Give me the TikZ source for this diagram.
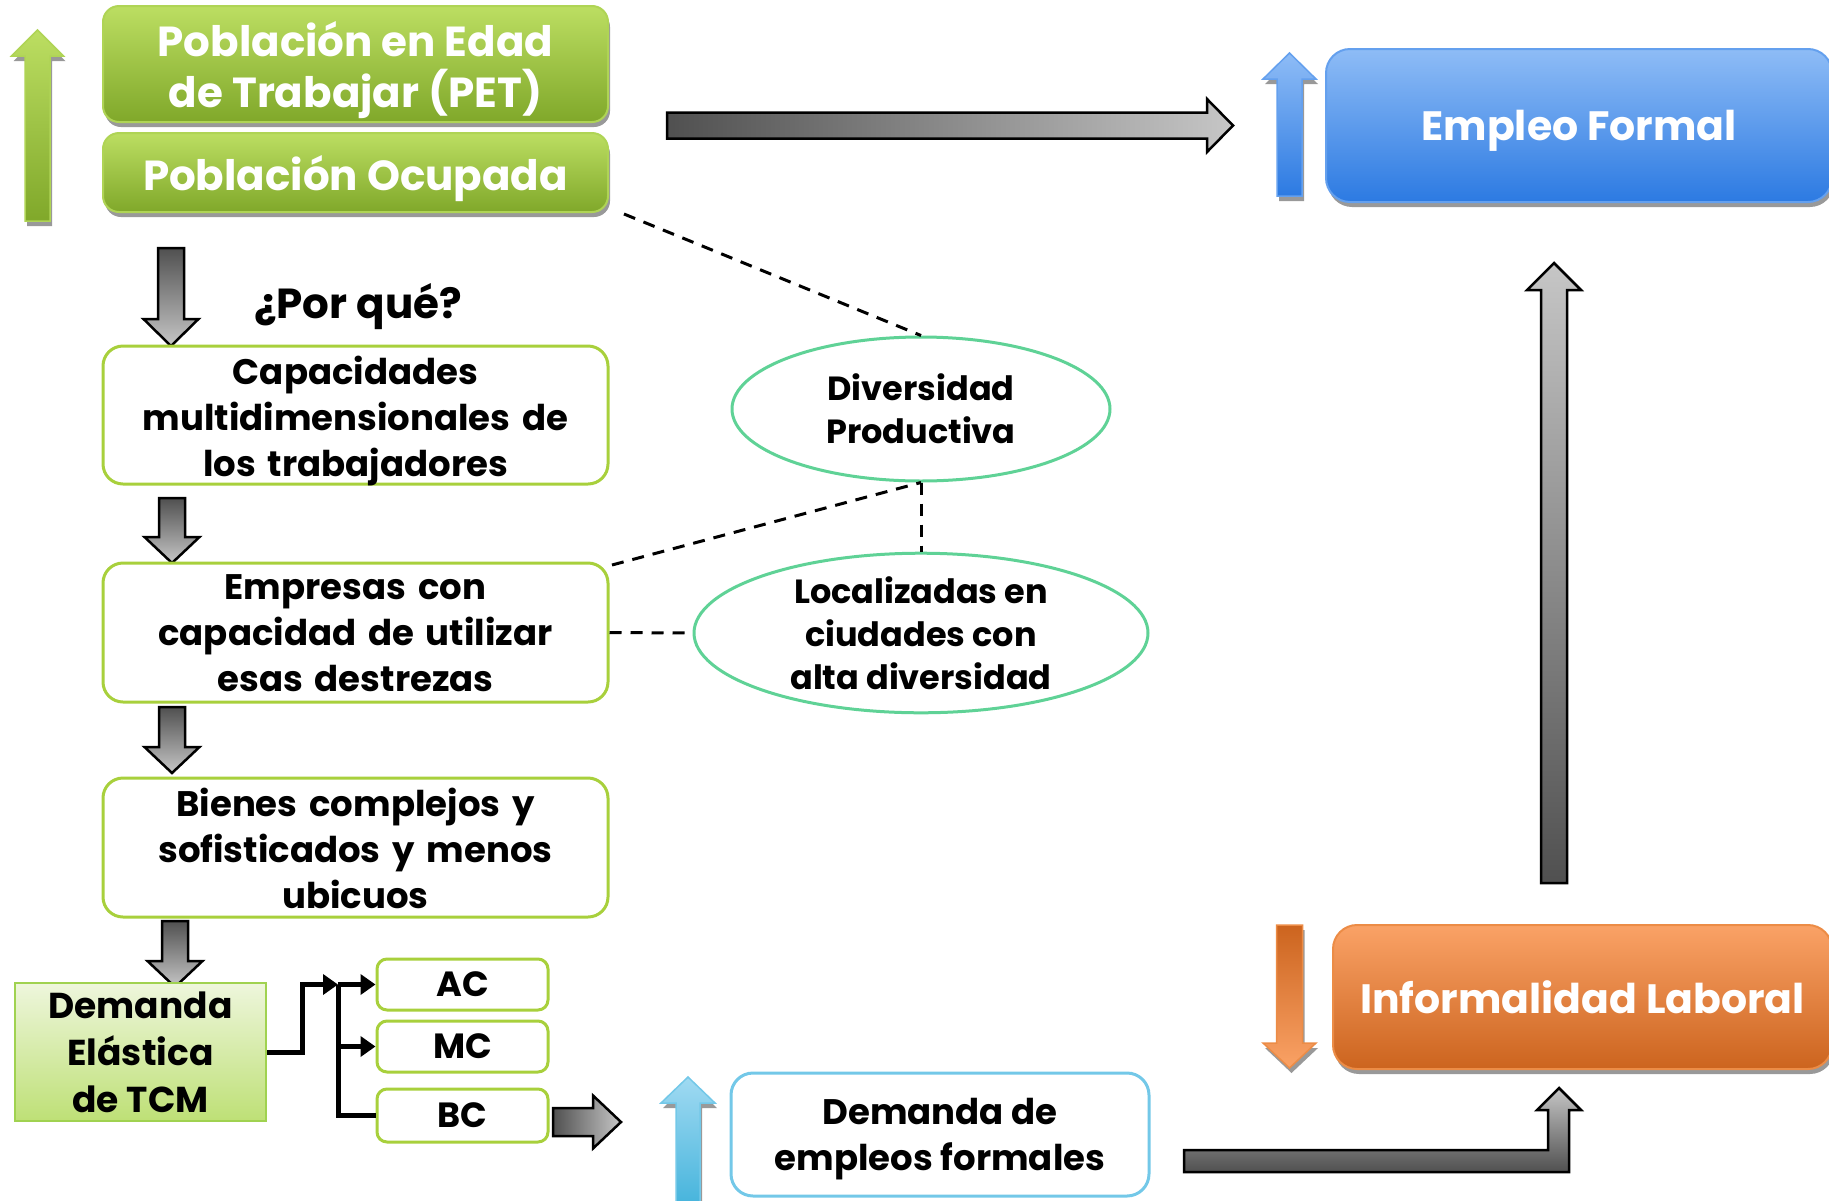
\documentclass[tikz,border=0pt]{standalone}
\usepackage{fontspec}
\setmainfont{Poppins}
\usetikzlibrary{shadows,arrows.meta,shapes.geometric}
\definecolor{lgreen}{RGB}{168,208,60}
\definecolor{gtop}{RGB}{188,222,98}
\definecolor{gbot}{RGB}{128,168,42}
\definecolor{gbord}{RGB}{175,212,85}
\definecolor{btop}{RGB}{142,188,246}
\definecolor{bbot}{RGB}{44,122,226}
\definecolor{bbord}{RGB}{100,160,238}
\definecolor{otop}{RGB}{250,162,102}
\definecolor{obot}{RGB}{204,100,30}
\definecolor{obord}{RGB}{236,140,70}
\definecolor{ellc}{RGB}{95,210,150}
\definecolor{skyb}{RGB}{115,200,232}
\definecolor{dtop}{RGB}{238,246,220}
\definecolor{dbot}{RGB}{190,224,118}
\definecolor{darkg}{RGB}{80,80,80}
\definecolor{lightg}{RGB}{198,198,198}
\newcommand\fwhite{\fontsize{42}{51}\selectfont\bfseries}
\newcommand\fbig{\fontsize{41}{50}\selectfont\bfseries}
\newcommand\fblack{\fontsize{35.5}{46}\selectfont\bfseries}
\newcommand\fell{\fontsize{33.5}{43}\selectfont\bfseries}
\newcommand\varrow[7]{\path[#7] (#1-#6,#3) -- (#1,#2) -- (#1+#6,#3) -- (#1+#5,#3) -- (#1+#5,#4) -- (#1-#5,#4) -- (#1-#5,#3) -- cycle;}
\newcommand\harrow[7]{\path[#7] (#3,#1-#6) -- (#2,#1) -- (#3,#1+#6) -- (#3,#1+#5) -- (#4,#1+#5) -- (#4,#1-#5) -- (#3,#1-#5) -- cycle;}
\begin{document}
\begin{tikzpicture}[x=1pt,y=-1pt,
  every node/.append style={text depth=0pt},
  shadowed/.style={drop shadow={shadow xshift=2pt,shadow yshift=-5pt,opacity=0.4,fill=black}},
  greenbox/.style={draw=gbord,line width=2pt,rounded corners=16pt,top color=gtop,bottom color=gbot,
     text=white,font=\fwhite,minimum width=505pt,inner sep=0pt,align=center,shadowed},
  wbox/.style={draw=lgreen,line width=3pt,rounded corners=20pt,fill=white,font=\fblack,text depth=90pt,
     text width=500pt,align=center,minimum width=505pt,minimum height=138pt,inner sep=0pt},
  smallbox/.style={draw=lgreen,line width=3pt,rounded corners=10pt,fill=white,font=\fontsize{35}{42}\selectfont\bfseries,
     minimum width=171pt,minimum height=51pt,inner sep=0pt},
  ellnode/.style={ellipse,draw=ellc,line width=3pt,fill=white,font=\fell,align=center,inner sep=0pt,minimum height=144pt},
  graydown/.style={draw=black,line width=2.5pt,top color=darkg,bottom color=lightg},
  grayup/.style={draw=black,line width=2.5pt,top color=lightg,bottom color=darkg},
  grayright/.style={draw=black,line width=2.5pt,left color=darkg,right color=lightg},
  dashline/.style={black,line width=3pt,dash pattern=on 12pt off 9pt},
  conn/.style={black,line width=5pt},
  tip/.style={-{Triangle[length=15pt,width=20pt]}}
]
\useasboundingbox (0,0) rectangle (1829,1200);
% left column green boxes
\node[greenbox,minimum height=116pt] (pet) at (355.5,64) {Población en Edad\\de Trabajar (PET)};
\node[greenbox,minimum height=79pt] (ocu) at (355.5,172.5) {Población Ocupada};
% colored arrows
\varrow{37.5}{30}{56}{221}{12.5}{26}{draw=gbord,line width=1.5pt,top color=gtop,bottom color=gbot,shadowed}
\varrow{1289.5}{53}{79}{196}{12.5}{26.5}{draw=bbord,line width=1.5pt,top color=btop,bottom color=bbot,shadowed}
\varrow{1289.5}{1068}{1043}{925}{13}{26.5}{draw=obord,line width=1.5pt,top color=obot,bottom color=otop,shadowed}
\varrow{688}{1077}{1103}{1205}{12}{27}{draw=skyb,line width=1.5pt,top color={rgb,255:red,160;green,218;blue,242},bottom color={rgb,255:red,70;green,180;blue,220},shadowed}
% right boxes
\node[draw=bbord,line width=2pt,rounded corners=24pt,top color=btop,bottom color=bbot,text=white,font=\fbig,
  minimum width=506pt,minimum height=153pt,inner sep=0pt,shadowed] (ef) at (1579,125.5) {Empleo Formal};
\node[draw=obord,line width=2pt,rounded corners=24pt,top color=otop,bottom color=obot,text=white,font=\fbig,
  minimum width=499pt,minimum height=144pt,inner sep=0pt,shadowed] (il) at (1582.5,997) {Informalidad Laboral};
% gray block arrows
\harrow{125.5}{1233}{1207}{667}{13}{26.5}{grayright}
\varrow{1554}{263}{290}{883}{13}{27}{grayup}
\path[grayup] (1184,1150) -- (1548,1150) -- (1548,1110) -- (1537,1110) -- (1559,1088) -- (1581,1110) -- (1569,1110) -- (1569,1172) -- (1184,1172) -- cycle;
\varrow{171}{346}{319}{248}{13}{27.5}{graydown}
\varrow{172}{563}{537}{498}{13}{27.5}{graydown}
\varrow{172}{773}{747}{707}{13}{27.5}{graydown}
\varrow{175}{987}{961}{921}{13}{27.5}{graydown}
\harrow{1122}{621}{593}{553}{14}{26.5}{grayright}
% question
\node[font=\fontsize{42}{48}\selectfont\bfseries] (q) at (358,301) {¿Por qué?};
% white boxes
\node[wbox] (cap) at (355.5,415) {Capacidades\\multidimensionales de\\los trabajadores};
\node[wbox,minimum height=139pt] (emp) at (355.5,632.5) {Empresas con\\capacidad de utilizar\\esas destrezas};
\node[wbox,minimum height=139pt] (bie) at (355.5,847.5) {Bienes complejos y\\sofisticados y menos\\ubicuos};
\node[draw={rgb,255:red,160;green,210;blue,80},line width=2pt,top color=dtop,bottom color=dbot,
  font=\fontsize{36}{47}\selectfont\bfseries,align=center,minimum width=251pt,minimum height=138pt,inner sep=0pt] (dem) at (140.5,1052) {Demanda\\Elástica\\de TCM};
\node[smallbox] (ac) at (462.5,984.5) {AC};
\node[smallbox] (mc) at (462.5,1046.5) {MC};
\node[smallbox,minimum height=53pt] (bc) at (462.5,1115.5) {BC};
\node[draw=skyb,line width=3pt,rounded corners=22pt,fill=white,font=\fblack,align=center,
  minimum width=418pt,minimum height=123pt,inner sep=0pt] (dep) at (940,1134.5) {Demanda de\\empleos formales};
% ellipses
\node[ellnode,minimum width=378pt] (div) at (921,409) {Diversidad\\Productiva};
\node[ellnode,minimum width=454pt] (loc) at (921,633) {Localizadas en\\ciudades con\\alta diversidad};
% dashed links
\coordinate (d1) at (624,214);
\coordinate (d2) at (612,565);
\draw[dashline] (d1) -- (div.north);
\draw[dashline] (d2) -- (div.south);
\draw[dashline] (div.south) -- (loc.north);
\draw[dashline] (emp.east) -- (loc.west);
% tree connectors
\coordinate (tr) at (338,984.5);
\draw[conn,tip] (dem.east) -- ++(35,0) |- (tr);
\draw[conn,tip] (tr) -- (ac.west);
\draw[conn,tip] (tr |- mc.west) -- (mc.west);
\draw[conn] (tr) |- (bc.west);
\end{tikzpicture}
\end{document}
